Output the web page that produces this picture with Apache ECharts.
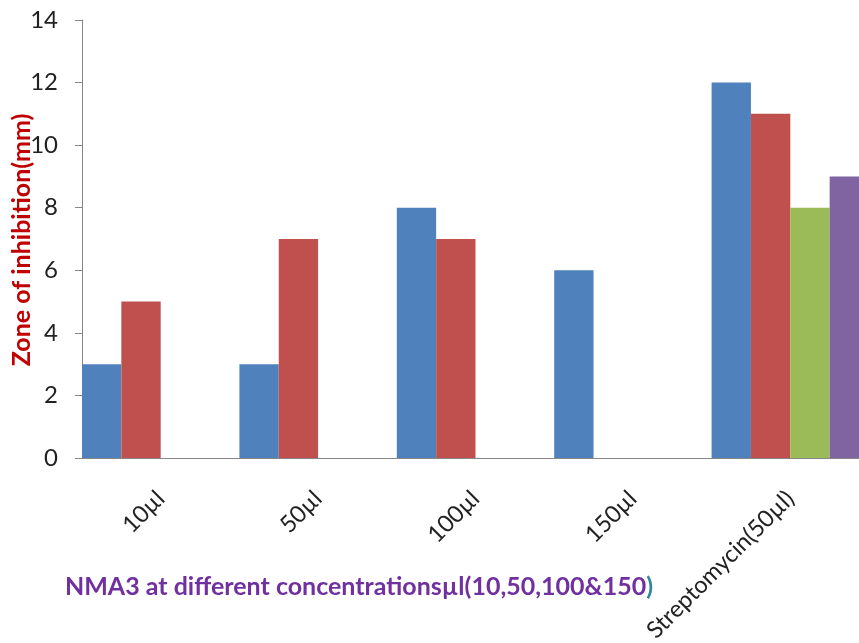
<!DOCTYPE html>
<html>
<head>
<meta charset="utf-8">
<script src="https://cdn.jsdelivr.net/npm/echarts@6/dist/echarts.min.js"></script>
<style>
  html, body { margin: 0; padding: 0; background: #ffffff; }
  #chart { width: 859px; height: 643px; }
</style>
</head>
<body>
<div id="chart"></div>
<script>
// Zone of inhibition (mm) for NMA3 at each concentration and the streptomycin control
const categories = ['10µl', '50µl', '100µl', '150µl', 'Streptomycin(50µl)'];
const series1 = [3, 3, 8, 6, 12];
const series2 = [5, 7, 7, 0, 11];
const series3 = [0, 0, 0, 0, 8];
const series4 = [0, 0, 0, 0, 9];
const yTicks = { min: 0, max: 14, step: 2 };

const FONT = 'Lato, "Open Sans", sans-serif';
const AXIS_GRAY = '#868686';

const chart = echarts.init(document.getElementById('chart'), null, { renderer: 'canvas' });

function barSeries(name, data, color) {
  return {
    name: name,
    type: 'bar',
    data: data,
    barGap: '0%',
    barCategoryGap: '0%',
    itemStyle: { color: color },
    emphasis: { disabled: true }
  };
}

chart.setOption({
  animation: false,
  backgroundColor: '#ffffff',
  grid: {
    left: 82, top: 20, width: 787, height: 438,
    containLabel: false,
    outerBoundsMode: 'none'
  },
  xAxis: {
    type: 'category',
    data: categories,
    axisLine: { show: true, lineStyle: { color: AXIS_GRAY, width: 1 } },
    axisTick: { show: false },
    splitLine: { show: false },
    axisLabel: {
      rotate: 45,
      interval: 0,
      margin: 37,
      fontFamily: FONT,
      fontSize: 23.5,
      color: '#222222'
    }
  },
  yAxis: {
    type: 'value',
    min: yTicks.min,
    max: yTicks.max,
    interval: yTicks.step,
    axisLine: { show: true, lineStyle: { color: AXIS_GRAY, width: 1 } },
    axisTick: { show: true, length: 7, lineStyle: { color: AXIS_GRAY } },
    splitLine: { show: false },
    axisLabel: {
      margin: 24,
      fontFamily: FONT,
      fontSize: 24,
      color: '#222222'
    }
  },
  graphic: [
    {
      // value axis title, rotated to read bottom-to-top
      type: 'text',
      x: 22,
      y: 240,
      rotation: Math.PI / 2,
      style: {
        text: 'Zone of inhibition(mm)',
        align: 'center',
        verticalAlign: 'middle',
        fontFamily: FONT,
        fontWeight: 'bold',
        fontSize: 25,
        fill: '#C00000'
      }
    },
    {
      // category axis title
      type: 'text',
      x: 359,
      y: 587,
      style: {
        text: '{a|NMA3 at different concentrationsµl(10,50,100&150}{b|)}',
        align: 'center',
        verticalAlign: 'middle',
        rich: {
          a: { fontFamily: FONT, fontWeight: 'bold', fontSize: 25, fill: '#7030A0', color: '#7030A0' },
          b: { fontFamily: FONT, fontWeight: 'bold', fontSize: 25, fill: '#31859C', color: '#31859C' }
        }
      }
    }
  ],
  series: [
    barSeries('Series 1', series1, '#4F81BD'),
    barSeries('Series 2', series2, '#C0504D'),
    barSeries('Series 3', series3, '#9BBB59'),
    barSeries('Series 4', series4, '#8064A2')
  ]
});
</script>
</body>
</html>
